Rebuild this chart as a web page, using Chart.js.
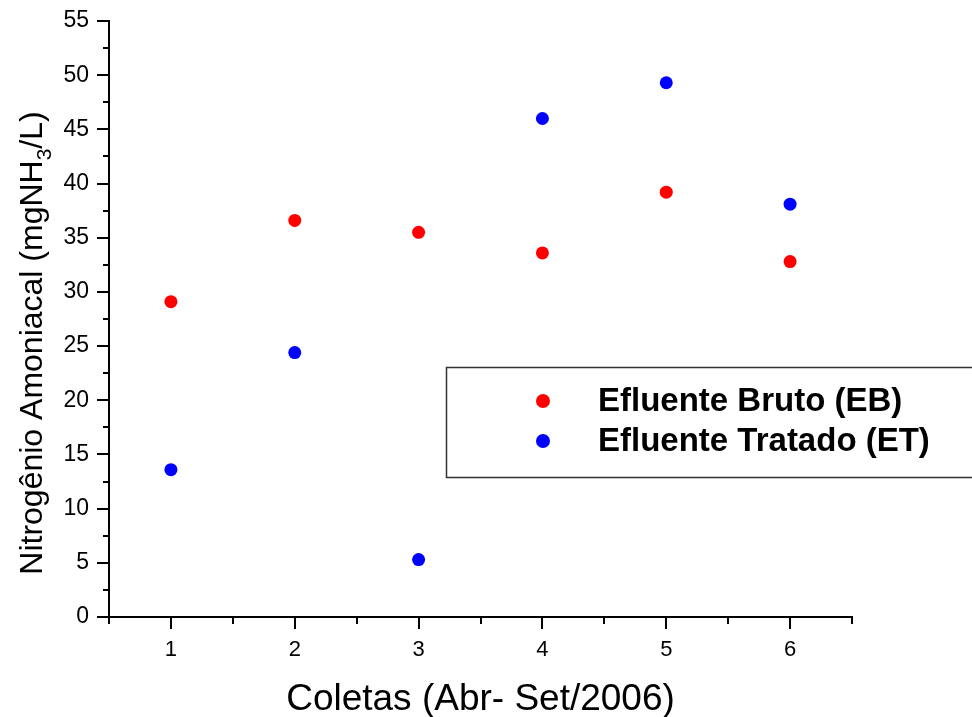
<!DOCTYPE html>
<html>
<head>
<meta charset="utf-8">
<script src="https://cdn.jsdelivr.net/npm/chart.js@4.4.1/dist/chart.umd.min.js"></script>
<style>
  html, body { margin: 0; padding: 0; background: #fff; }
  #wrap { width: 972px; height: 717px; position: relative; }
</style>
</head>
<body>
<div id="wrap"><canvas id="c" width="972" height="717"></canvas></div>
<script>
// ---- data ----
const categories = [1, 2, 3, 4, 5, 6];
const ebValues = [29.1, 36.6, 35.5, 33.6, 39.2, 32.8];   // Efluente Bruto (EB)
const etValues = [13.6, 24.4, 5.3, 46.0, 49.3, 38.1];    // Efluente Tratado (ET)
const seriesLabels = ['Efluente Bruto (EB)', 'Efluente Tratado (ET)'];
const xTickValues = [1, 2, 3, 4, 5, 6];
const xMinorValues = [0.5, 1.5, 2.5, 3.5, 4.5, 5.5, 6.5];
const yTickValues = [0, 5, 10, 15, 20, 25, 30, 35, 40, 45, 50, 55];
const yMinorValues = [2.5, 7.5, 12.5, 17.5, 22.5, 27.5, 32.5, 37.5, 42.5, 47.5, 52.5];
const xTitle = 'Coletas (Abr- Set/2006)';
const yTitleParts = ['Nitrogênio Amoniacal (mgNH', '3', '/L)'];

const FONT = '"Liberation Sans", Arial, Helvetica, sans-serif';

const axesPlugin = {
  id: 'originAxes',
  afterDraw(chart) {
    const { ctx, chartArea: ca, scales } = chart;
    const xs = scales.x, ys = scales.y;
    ctx.save();
    ctx.strokeStyle = '#000';
    ctx.lineWidth = 2;
    ctx.lineCap = 'butt';
    // axis lines
    ctx.beginPath();
    ctx.moveTo(ca.left, ys.getPixelForValue(55) - 1);
    ctx.lineTo(ca.left, ca.bottom + 1);
    ctx.moveTo(ca.left - 1, ca.bottom);
    ctx.lineTo(ca.right + 1, ca.bottom);
    ctx.stroke();
    // y ticks
    ctx.beginPath();
    yTickValues.forEach(v => {
      const py = Math.round(ys.getPixelForValue(v));
      ctx.moveTo(ca.left - 12, py); ctx.lineTo(ca.left, py);
    });
    yMinorValues.forEach(v => {
      const py = Math.round(ys.getPixelForValue(v));
      ctx.moveTo(ca.left - 6, py); ctx.lineTo(ca.left, py);
    });
    // x ticks
    xTickValues.forEach(v => {
      const px = Math.round(xs.getPixelForValue(v));
      ctx.moveTo(px, ca.bottom); ctx.lineTo(px, ca.bottom + 12);
    });
    xMinorValues.forEach(v => {
      const px = Math.round(xs.getPixelForValue(v));
      ctx.moveTo(px, ca.bottom); ctx.lineTo(px, ca.bottom + 7);
    });
    ctx.stroke();

    // x title
    ctx.fillStyle = '#000';
    ctx.font = '37px ' + FONT;
    ctx.textAlign = 'center';
    ctx.textBaseline = 'alphabetic';
    ctx.fillText(xTitle, (ca.left + ca.right) / 2, 710);

    // y title with subscript
    const mainFont = '32px ' + FONT;
    const subFont = '21px ' + FONT;
    ctx.font = mainFont;
    const w1 = ctx.measureText(yTitleParts[0]).width;
    const w3 = ctx.measureText(yTitleParts[2]).width;
    ctx.font = subFont;
    const w2 = ctx.measureText(yTitleParts[1]).width;
    const total = w1 + w2 + w3;
    ctx.translate(42, 343);
    ctx.rotate(-Math.PI / 2);
    ctx.textAlign = 'left';
    let cx = -total / 2;
    ctx.font = mainFont;
    ctx.fillText(yTitleParts[0], cx, 0); cx += w1;
    ctx.font = subFont;
    ctx.fillText(yTitleParts[1], cx, 9); cx += w2;
    ctx.font = mainFont;
    ctx.fillText(yTitleParts[2], cx, 0);
    ctx.restore();

    // legend
    ctx.save();
    ctx.strokeStyle = '#333';
    ctx.lineWidth = 1.5;
    ctx.strokeRect(446.5, 367.5, 540, 110);
    chart.data.datasets.forEach((ds, i) => {
      const cy = 401 + i * 40;
      ctx.fillStyle = ds.backgroundColor;
      ctx.beginPath();
      ctx.arc(543, cy, 7, 0, Math.PI * 2);
      ctx.fill();
      ctx.fillStyle = '#000';
      ctx.font = 'bold 33px ' + FONT;
      ctx.textAlign = 'left';
      ctx.textBaseline = 'middle';
      ctx.fillText(ds.label, 598, cy + 1);
    });
    ctx.restore();
  }
};

new Chart(document.getElementById('c'), {
  type: 'scatter',
  data: {
    datasets: [
      { label: seriesLabels[0], data: categories.map((x, i) => ({ x, y: ebValues[i] })),
        backgroundColor: '#ff0000', borderWidth: 0, pointRadius: 6.5, pointHoverRadius: 6.5 },
      { label: seriesLabels[1], data: categories.map((x, i) => ({ x, y: etValues[i] })),
        backgroundColor: '#0000ff', borderWidth: 0, pointRadius: 6.5, pointHoverRadius: 6.5 }
    ]
  },
  options: {
    responsive: false,
    animation: false,
    layout: { padding: { left: 0, top: 21, right: 120, bottom: 0 } },
    plugins: { legend: { display: false }, tooltip: { enabled: false } },
    scales: {
      x: {
        type: 'linear', min: 0.5, max: 6.5,
        afterBuildTicks: s => { s.ticks = xTickValues.map(v => ({ value: v })); },
        afterFit: s => { s.height = 100; s.paddingLeft = 0; s.paddingRight = 0; },
        grid: { display: false, drawTicks: false },
        border: { display: false },
        ticks: { padding: 20, color: '#000', font: { family: FONT, size: 22 } }
      },
      y: {
        type: 'linear', min: 0, max: 55,
        afterBuildTicks: s => { s.ticks = yTickValues.map(v => ({ value: v })); },
        afterFit: s => { s.width = 109; s.paddingTop = 0; s.paddingBottom = 0; },
        grid: { display: false, drawTicks: false },
        border: { display: false },
        ticks: { padding: 20, color: '#000', font: { family: FONT, size: 23 } }
      }
    }
  },
  plugins: [axesPlugin]
});
</script>
</body>
</html>
